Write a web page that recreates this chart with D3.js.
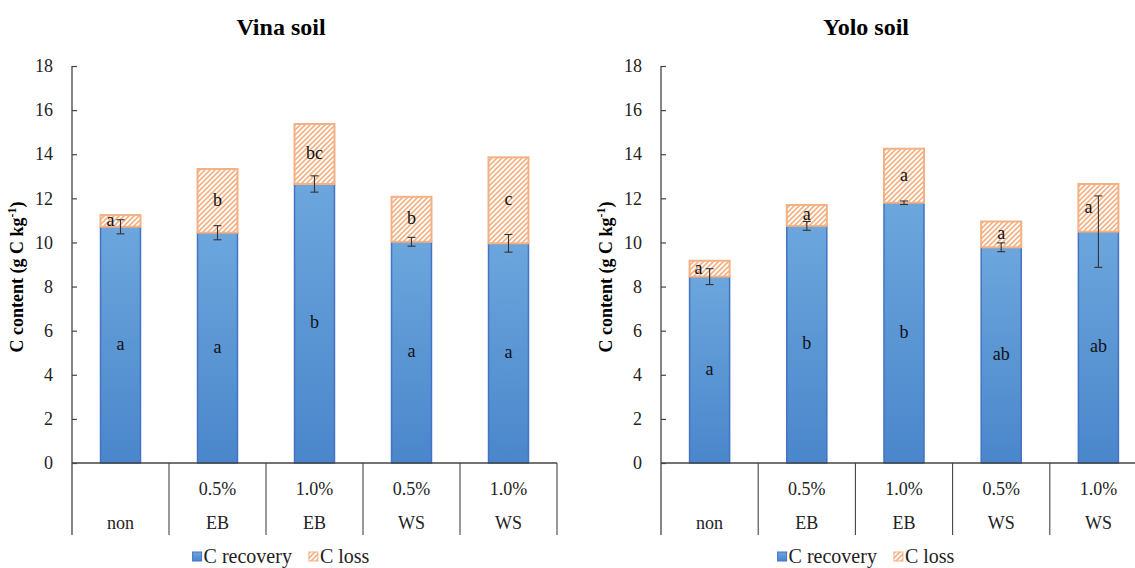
<!DOCTYPE html>
<html>
<head>
<meta charset="utf-8">
<script src="https://cdn.jsdelivr.net/npm/d3@7"></script>
<style>
  html, body { margin: 0; padding: 0; background: #fff; }
  svg { display: block; }
</style>
</head>
<body>
<svg id="chart" width="1135" height="568" font-family="'Liberation Serif', 'Times New Roman', Times, serif"></svg>
<script>
// ---------------- data ----------------
const rateLabels = ["", "0.5%", "1.0%", "0.5%", "1.0%"];
const typeLabels = ["non", "EB", "EB", "WS", "WS"];
const yTicks = [0, 2, 4, 6, 8, 10, 12, 14, 16, 18];

const vinaRecovery = [10.71, 10.44, 12.65, 10.03, 9.96];
const vinaLoss     = [0.53, 2.89, 2.72, 2.04, 3.90];
const vinaErr      = [0.32, 0.32, 0.37, 0.20, 0.40];
const vinaRecLetters  = ["a", "a", "b", "a", "a"];
const vinaLossLetters = ["a", "b", "bc", "b", "c"];

const yoloRecovery = [8.45, 10.75, 11.80, 9.78, 10.49];
const yoloLoss     = [0.72, 0.95, 2.45, 1.17, 2.16];
const yoloErr      = [0.36, 0.20, 0.08, 0.20, 1.62];
const yoloRecLetters  = ["a", "b", "b", "ab", "ab"];
const yoloLossLetters = ["a", "a", "a", "a", "a"];

const seriesNames = ["C recovery", "C loss"];

// ---------------- drawing ----------------
const FONT = "'Liberation Serif', 'Times New Roman', Times, serif";
const svg = d3.select("#chart");
const defs = svg.append("defs");

const grad = defs.append("linearGradient").attr("id", "blueGrad")
  .attr("x1", 0).attr("y1", 0).attr("x2", 0).attr("y2", 1);
grad.append("stop").attr("offset", "0%").attr("stop-color", "#6ca6dd");
grad.append("stop").attr("offset", "100%").attr("stop-color", "#4a86cb");

const pat = defs.append("pattern").attr("id", "hatch")
  .attr("patternUnits", "userSpaceOnUse").attr("width", 5).attr("height", 5);
pat.append("rect").attr("width", 5).attr("height", 5).attr("fill", "#fff");
pat.append("path").attr("d", "M0,5 L5,0 M-1.25,1.25 L1.25,-1.25 M3.75,6.25 L6.25,3.75")
  .attr("stroke", "#f4b183").attr("stroke-width", 1.6);

function panel(opts) {
  const { x0, x1, title, titleX, recovery, loss, err, recLetters, lossLetters, lossLetterShift } = opts;
  const g = svg.append("g");
  const y = d3.scaleLinear().domain([0, 18]).range([463, 66]);
  const idx = d3.range(recovery.length);
  const x = d3.scaleBand().domain(idx).range([x0, x1]).paddingInner(0.588).paddingOuter(0.294);
  const step = x.step();
  const bw = x.bandwidth();
  const bottom = 535;

  // title
  g.append("text").attr("x", titleX).attr("y", 35).attr("text-anchor", "middle")
    .attr("font-size", 24).attr("font-weight", "bold").text(title);

  // y axis label
  g.append("text")
    .attr("transform", `translate(${x0 - 49},277) rotate(-90)`)
    .attr("text-anchor", "middle").attr("font-size", 18).attr("font-weight", "bold")
    .call(t => {
      t.append("tspan").text("C content (g C kg");
      t.append("tspan").attr("baseline-shift", "super").attr("font-size", 12).text("-1");
      t.append("tspan").text(")");
    });

  // y axis
  const ax = g.append("g").attr("transform", `translate(${x0},0)`)
    .call(d3.axisLeft(y).tickValues(yTicks).tickSizeInner(-5).tickSizeOuter(0).tickPadding(19));
  ax.attr("font-family", FONT);
  ax.select(".domain").remove();
  ax.selectAll(".tick line").attr("stroke", "#444").attr("stroke-width", 1.2);
  ax.selectAll(".tick text").attr("font-size", 18).attr("fill", "#222");

  // bars: recovery
  g.selectAll(".rec").data(idx).join("rect")
    .attr("x", i => x(i)).attr("width", bw)
    .attr("y", i => y(recovery[i])).attr("height", i => y(0) - y(recovery[i]))
    .attr("fill", "url(#blueGrad)").attr("stroke", "#4472c4").attr("stroke-width", 1.5);

  // bars: loss
  g.selectAll(".loss").data(idx).join("rect")
    .attr("x", i => x(i)).attr("width", bw)
    .attr("y", i => y(recovery[i] + loss[i])).attr("height", i => y(recovery[i]) - y(recovery[i] + loss[i]))
    .attr("fill", "url(#hatch)").attr("stroke", "#f4b183").attr("stroke-width", 2);

  // letters
  g.selectAll(".recL").data(idx).join("text")
    .attr("x", i => x(i) + bw / 2).attr("y", i => y(recovery[i] / 2) + 5)
    .attr("text-anchor", "middle").attr("font-size", 18).attr("fill", "#111").text(i => recLetters[i]);
  g.selectAll(".lossL").data(idx).join("text")
    .attr("x", i => x(i) + bw / 2 + lossLetterShift[i]).attr("y", i => y(recovery[i] + loss[i] / 2) + 5)
    .attr("text-anchor", "middle").attr("font-size", 18).attr("fill", "#111").text(i => lossLetters[i]);

  // error bars
  const eb = g.selectAll(".err").data(idx).join("g").attr("stroke", "#333").attr("stroke-width", 1.1);
  eb.append("line").attr("x1", i => x(i) + bw / 2).attr("x2", i => x(i) + bw / 2)
    .attr("y1", i => y(recovery[i] + err[i])).attr("y2", i => y(recovery[i] - err[i]));
  eb.append("line").attr("x1", i => x(i) + bw / 2 - 4).attr("x2", i => x(i) + bw / 2 + 4)
    .attr("y1", i => y(recovery[i] + err[i])).attr("y2", i => y(recovery[i] + err[i]));
  eb.append("line").attr("x1", i => x(i) + bw / 2 - 4).attr("x2", i => x(i) + bw / 2 + 4)
    .attr("y1", i => y(recovery[i] - err[i])).attr("y2", i => y(recovery[i] - err[i]));

  // axis lines
  g.append("line").attr("x1", x0).attr("x2", x0).attr("y1", y(18)).attr("y2", bottom)
    .attr("stroke", "#444").attr("stroke-width", 1.3);
  g.append("line").attr("x1", x0).attr("x2", x1).attr("y1", y(0)).attr("y2", y(0))
    .attr("stroke", "#444").attr("stroke-width", 1.3);
  // category dividers
  g.selectAll(".div").data(idx).join("line")
    .attr("x1", i => x(i) + bw / 2 + step / 2).attr("x2", i => x(i) + bw / 2 + step / 2)
    .attr("y1", y(0)).attr("y2", bottom).attr("stroke", "#444").attr("stroke-width", 1.1);

  // category labels
  g.selectAll(".rate").data(idx).join("text")
    .attr("x", i => x(i) + bw / 2).attr("y", 495).attr("text-anchor", "middle")
    .attr("font-size", 18).attr("fill", "#222").text(i => rateLabels[i]);
  g.selectAll(".type").data(idx).join("text")
    .attr("x", i => x(i) + bw / 2).attr("y", 529).attr("text-anchor", "middle")
    .attr("font-size", 18).attr("fill", "#222").text(i => typeLabels[i]);

  // legend (centered under title)
  const lg = g.append("g").attr("transform", "translate(0,557)");
  const r1 = lg.append("rect").attr("y", -5).attr("width", 9).attr("height", 9)
    .attr("fill", "url(#blueGrad)").attr("stroke", "#4472c4").attr("stroke-width", 1);
  const t1 = lg.append("text").attr("y", 6).attr("font-size", 20).attr("fill", "#222")
    .style("font-family", FONT).text(seriesNames[0]);
  const r2 = lg.append("rect").attr("y", -5).attr("width", 9).attr("height", 9)
    .attr("fill", "url(#hatch)").attr("stroke", "#f4b183").attr("stroke-width", 1);
  const t2 = lg.append("text").attr("y", 6).attr("font-size", 20).attr("fill", "#222")
    .style("font-family", FONT).text(seriesNames[1]);
  const w1 = t1.node().getComputedTextLength();
  const w2 = t2.node().getComputedTextLength();
  const gap = 17;
  const total = 11 + w1 + gap + 11 + w2;
  const start = titleX - total / 2;
  r1.attr("x", start);
  t1.attr("x", start + 11);
  r2.attr("x", start + 11 + w1 + gap);
  t2.attr("x", start + 11 + w1 + gap + 11);
}

panel({ x0: 72, x1: 557, title: "Vina soil", titleX: 281,
  recovery: vinaRecovery, loss: vinaLoss, err: vinaErr,
  recLetters: vinaRecLetters, lossLetters: vinaLossLetters, lossLetterShift: [-10, 0, 0, 0, 0] });
panel({ x0: 661, x1: 1147, title: "Yolo soil", titleX: 866,
  recovery: yoloRecovery, loss: yoloLoss, err: yoloErr,
  recLetters: yoloRecLetters, lossLetters: yoloLossLetters, lossLetterShift: [-11, 0, 0, 0, -10] });

svg.selectAll("text").style("font-family", FONT);
</script>
</body>
</html>
